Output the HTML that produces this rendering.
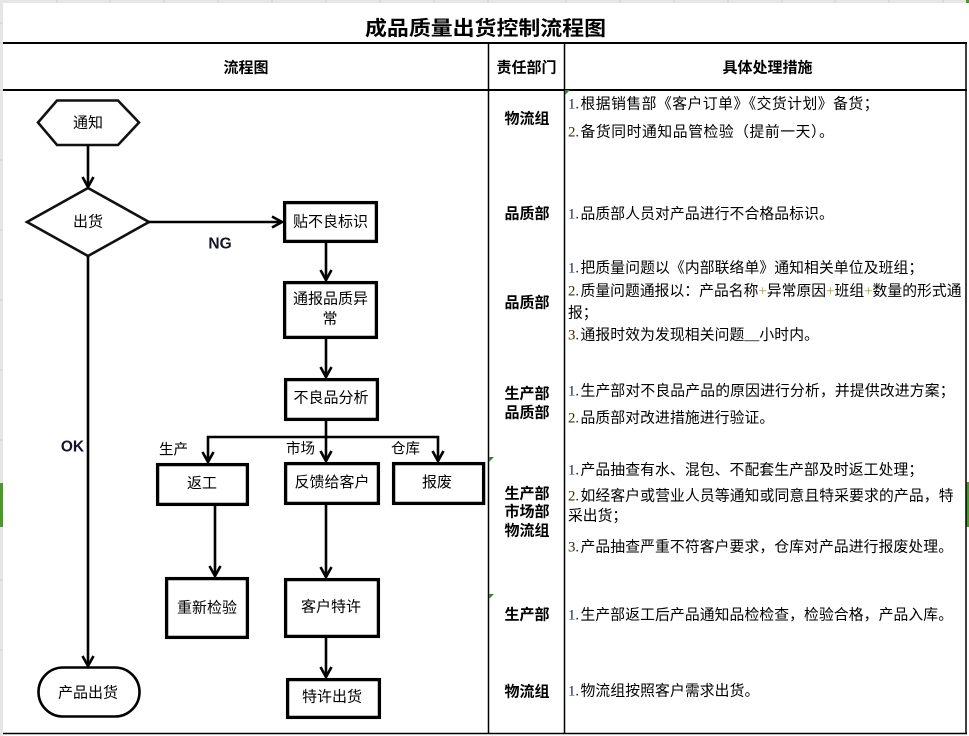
<!DOCTYPE html>
<html><head><meta charset="utf-8"><style>
html,body{margin:0;padding:0;background:#fff;}
svg{display:block;}
.fc{font-family:"Liberation Sans","Noto Sans CJK SC",sans-serif;font-size:15px;fill:#000;}
.dp{font-family:"Liberation Sans","Noto Sans CJK SC",sans-serif;font-size:15px;font-weight:bold;fill:#000;}
.tx{font-family:"Liberation Serif","Noto Sans CJK SC",sans-serif;font-size:14.8px;fill:#000;}
.nm{font-family:"Liberation Serif","Noto Sans CJK SC",serif;font-size:14.8px;fill:#14206a;}
.nm2{font-family:"Liberation Serif","Noto Sans CJK SC",serif;font-size:14.8px;fill:#3a2a10;}
</style></head><body>
<svg width="969" height="736" viewBox="0 0 969 736" xmlns="http://www.w3.org/2000/svg">
<!-- spreadsheet edges -->
<rect x="0" y="0" width="969" height="3" fill="#e6e6e6"/>
<rect x="0" y="0" width="3" height="736" fill="#e6e6e6"/>
<g stroke="#cfcfcf" stroke-width="1">
<line x1="57" y1="0" x2="57" y2="3"/><line x1="110" y1="0" x2="110" y2="3"/><line x1="164" y1="0" x2="164" y2="3"/>
<line x1="218" y1="0" x2="218" y2="3"/><line x1="272" y1="0" x2="272" y2="3"/><line x1="326" y1="0" x2="326" y2="3"/>
<line x1="380" y1="0" x2="380" y2="3"/><line x1="434" y1="0" x2="434" y2="3"/><line x1="488" y1="0" x2="488" y2="3"/>
<line x1="566" y1="0" x2="566" y2="3"/><line x1="620" y1="0" x2="620" y2="3"/><line x1="674" y1="0" x2="674" y2="3"/>
<line x1="728" y1="0" x2="728" y2="3"/><line x1="782" y1="0" x2="782" y2="3"/><line x1="835" y1="0" x2="835" y2="3"/>
<line x1="889" y1="0" x2="889" y2="3"/><line x1="943" y1="0" x2="943" y2="3"/>
<line x1="0" y1="23" x2="3" y2="23"/><line x1="0" y1="43" x2="3" y2="43"/><line x1="0" y1="90" x2="3" y2="90"/>
<line x1="0" y1="160" x2="3" y2="160"/><line x1="0" y1="230" x2="3" y2="230"/><line x1="0" y1="300" x2="3" y2="300"/>
<line x1="0" y1="370" x2="3" y2="370"/><line x1="0" y1="440" x2="3" y2="440"/><line x1="0" y1="580" x2="3" y2="580"/>
<line x1="0" y1="650" x2="3" y2="650"/>
</g>
<rect x="0" y="483" width="3" height="44" fill="#4a9a2a"/>
<rect x="966" y="482" width="3" height="45" fill="#4a9a2a"/>
<rect x="966" y="0" width="3" height="3" fill="#4a9a2a"/>

<!-- table lines -->
<g stroke="#000" fill="none">
<line x1="3" y1="43" x2="967" y2="43" stroke-width="2"/>
<line x1="3" y1="90" x2="967" y2="90" stroke-width="2"/>
<line x1="3" y1="733.5" x2="967" y2="733.5" stroke-width="1.6"/>
<line x1="488.5" y1="43" x2="488.5" y2="734" stroke-width="1.5"/>
<line x1="564.5" y1="43" x2="564.5" y2="734" stroke-width="1.5"/>
<line x1="966" y1="43" x2="966" y2="734" stroke-width="1.5"/>
</g>
<!-- comment markers -->
<polygon points="565,90 570,90 565,95" fill="#2a8a2a"/>
<polygon points="489,457 494,457 489,462" fill="#2a8a2a"/>
<polygon points="489,594 494,594 489,599" fill="#2a8a2a"/>

<!-- title and headers -->
<text x="365" y="35" textLength="241" lengthAdjust="spacingAndGlyphs" style="font-family:'Liberation Sans','Noto Sans CJK SC',sans-serif;font-size:20px;font-weight:bold;fill:#000;">成品质量出货控制流程图</text>
<text x="246" y="72.7" text-anchor="middle" class="dp">流程图</text>
<text x="526.5" y="72.7" text-anchor="middle" class="dp">责任部门</text>
<text x="767.5" y="72.7" text-anchor="middle" class="dp">具体处理措施</text>

<!-- flowchart shapes -->
<g stroke="#000" fill="none" stroke-width="2.6" stroke-linejoin="miter">
<polygon points="38,122.5 57,100.5 118,100.5 139,122.5 118,145 57,145" stroke="#111"/>
<polygon points="27,222 88,188 149,222 88,256" stroke="#111"/>
<rect x="38.5" y="667.5" width="101" height="49" rx="24.5" ry="24.5"/>
</g>
<g stroke="#000" fill="none" stroke-width="3.3">
<rect x="284.6" y="202.6" width="91.8" height="38.8"/>
<rect x="284.6" y="282.6" width="91.8" height="54.8"/>
<rect x="285.6" y="379.6" width="91.8" height="39.8"/>
<rect x="157.6" y="464.6" width="89.8" height="39.8"/>
<rect x="285.6" y="463.6" width="92.8" height="39.8"/>
<rect x="393.6" y="463.6" width="90" height="39.8"/>
<rect x="166.6" y="578.6" width="80.8" height="58.8"/>
<rect x="285.6" y="579.6" width="92.8" height="56.8"/>
<rect x="287.6" y="679.6" width="91.8" height="37.8"/>
</g>
<!-- connectors -->
<g stroke="#000" fill="none" stroke-width="2.6" stroke-linejoin="miter" stroke-linecap="butt">
<line x1="88" y1="145" x2="88" y2="187"/>
<polyline points="82.5,177 88,187 93.5,177"/>
<line x1="149" y1="222" x2="282" y2="222"/>
<polyline points="272,216.5 282,222 272,227.5"/>
<line x1="326" y1="243" x2="326" y2="280"/>
<polyline points="320.5,270 326,280 331.5,270"/>
<line x1="326" y1="338" x2="326" y2="377"/>
<polyline points="320.5,367 326,377 331.5,367"/>
<line x1="326" y1="420" x2="326" y2="461"/>
<polyline points="208,462 208,437 438,437 438,461"/>
<polyline points="202.5,452 208,462 213.5,452"/>
<polyline points="320.5,451 326,461 331.5,451"/>
<polyline points="432.5,451 438,461 443.5,451"/>
<line x1="215" y1="505" x2="215" y2="576"/>
<polyline points="209.5,566 215,576 220.5,566"/>
<line x1="326" y1="504" x2="326" y2="577"/>
<polyline points="320.5,567 326,577 331.5,567"/>
<line x1="326" y1="637" x2="326" y2="677"/>
<polyline points="320.5,667 326,677 331.5,667"/>
<line x1="88" y1="256" x2="88" y2="666"/>
<polyline points="82.5,656 88,666 93.5,656"/>
</g>

<!-- flowchart labels -->
<g class="fc" text-anchor="middle">
<text x="88" y="127.5">通知</text>
<text x="88" y="226.5">出货</text>
<text x="330.5" y="226.5">贴不良标识</text>
<text x="330.5" y="303.5">通报品质异</text>
<text x="330" y="323.5">常</text>
<text x="331" y="402.5">不良品分析</text>
<text x="202" y="488">返工</text>
<text x="332" y="487">反馈给客户</text>
<text x="437" y="487">报废</text>
<text x="207" y="612.5">重新检验</text>
<text x="331" y="611.5">客户特许</text>
<text x="332" y="701.5">特许出货</text>
<text x="88" y="697.5">产品出货</text>
</g>
<g class="fc" style="font-size:14.5px" text-anchor="middle">
<text x="173.5" y="454.5">生产</text>
<text x="300.5" y="453.5">市场</text>
<text x="405.5" y="453.5">仓库</text>
</g>
<text x="220" y="248.5" text-anchor="middle" style="font-family:'Liberation Sans',sans-serif;font-size:15.5px;font-weight:bold;fill:#141428;">NG</text>
<text x="72.5" y="451.5" text-anchor="middle" style="font-family:'Liberation Sans',sans-serif;font-size:15.5px;font-weight:bold;fill:#141428;">OK</text>

<!-- departments -->
<g class="dp" text-anchor="middle">
<text x="527" y="123.7">物流组</text>
<text x="527" y="218.7">品质部</text>
<text x="527" y="307.7">品质部</text>
<text x="527" y="398.7">生产部</text>
<text x="527" y="417.7">品质部</text>
<text x="527" y="498.7">生产部</text>
<text x="527" y="516.7">市场部</text>
<text x="527" y="535.7">物流组</text>
<text x="527" y="619.7">生产部</text>
<text x="527" y="696.7">物流组</text>
</g>

<!-- measures -->
<text class="nm" x="568" y="108.6">1.</text><text class="tx" x="580.5" y="108.6" textLength="298" lengthAdjust="spacing">根据销售部《客户订单》《交货计划》备货；</text>
<text class="nm2" x="568" y="136.6">2.</text><text class="tx" x="580.5" y="136.6" textLength="253.3" lengthAdjust="spacing">备货同时通知品管检验（提前一天）。</text>

<text class="nm" x="568" y="218.6">1.</text><text class="tx" x="580.5" y="218.6" textLength="253.3" lengthAdjust="spacing">品质部人员对产品进行不合格品标识。</text>

<text class="nm" x="568" y="272.6">1.</text><text class="tx" x="580.5" y="272.6" textLength="342.7" lengthAdjust="spacing">把质量问题以《内部联络单》通知相关单位及班组；</text>
<text class="nm2" x="568" y="295.6">2.</text><text class="tx" x="580.5" y="295.6" textLength="381" lengthAdjust="spacing">质量问题通报以：产品名称<tspan fill="#a8a020">+</tspan>异常原因<tspan fill="#a8a020">+</tspan>班组<tspan fill="#a8a020">+</tspan>数量的形式通</text>
<text class="tx" x="568" y="317.6">报；</text>
<text class="nm2" x="568" y="339.6">3.</text><text class="tx" x="580.5" y="339.6" textLength="238.4" lengthAdjust="spacing">通报时效为发现相关问题__小时内。</text>

<text class="nm" x="568" y="395.6">1.</text><text class="tx" x="580.5" y="395.6" textLength="374" lengthAdjust="spacing">生产部对不良品产品的原因进行分析，并提供改进方案；</text>
<text class="nm2" x="568" y="422.6">2.</text><text class="tx" x="580.5" y="422.6" textLength="193.7" lengthAdjust="spacing">品质部对改进措施进行验证。</text>

<text class="nm" x="568" y="474.6">1.</text><text class="tx" x="580.5" y="474.6" textLength="342.7" lengthAdjust="spacing">产品抽查有水、混包、不配套生产部及时返工处理；</text>
<text class="nm2" x="568" y="500.6">2.</text><text class="tx" x="580.5" y="500.6" textLength="373" lengthAdjust="spacing">如经客户或营业人员等通知或同意且特采要求的产品，特</text>
<text class="tx" x="568" y="520.6">采出货；</text>
<text class="nm2" x="568" y="551.6">3.</text><text class="tx" x="580.5" y="551.6" textLength="372.5" lengthAdjust="spacing">产品抽查严重不符客户要求，仓库对产品进行报废处理。</text>

<text class="nm" x="568" y="619.6">1.</text><text class="tx" x="580.5" y="619.6" textLength="372.5" lengthAdjust="spacing">生产部返工后产品通知品检检查，检验合格，产品入库。</text>

<text class="nm" x="568" y="695.6">1.</text><text class="tx" x="580.5" y="695.6" textLength="178.8" lengthAdjust="spacing">物流组按照客户需求出货。</text>
</svg>
</body></html>
